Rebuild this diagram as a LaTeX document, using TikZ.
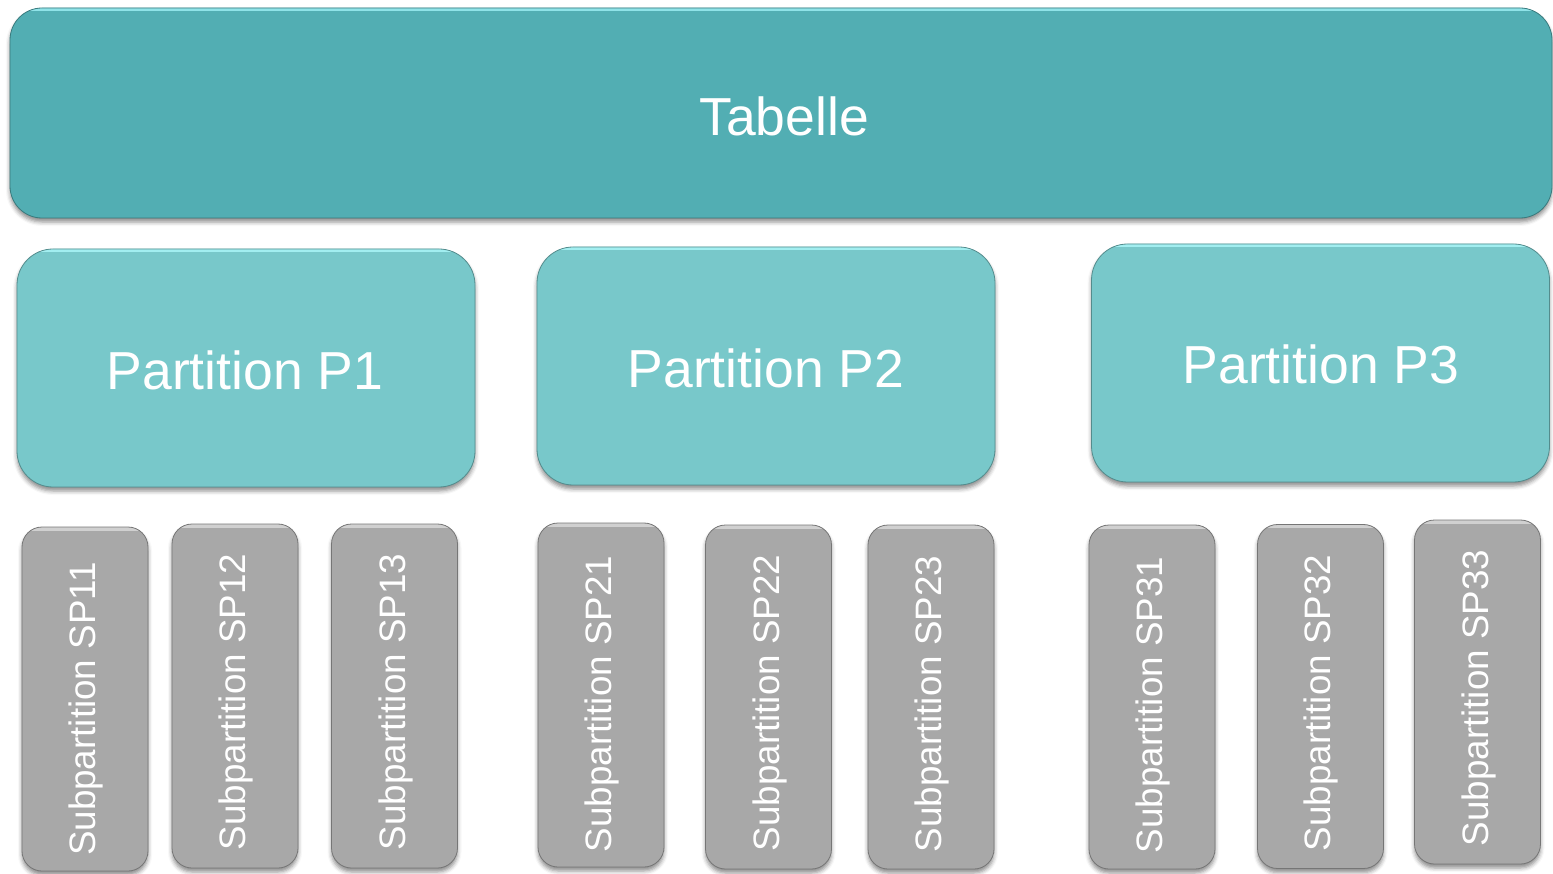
\documentclass[tikz,border=0pt]{standalone}
\usepackage{fontspec}
\setmainfont{Liberation Sans}
\usetikzlibrary{shadows.blur}
\definecolor{tabfill}{HTML}{52AEB3}
\definecolor{partfill}{HTML}{78C8CA}
\definecolor{subfill}{HTML}{A8A8A8}
\definecolor{tabhi}{HTML}{8FE3E8}
\definecolor{parthi}{HTML}{A2EEF0}
\definecolor{subhi}{HTML}{D0D0D0}
\tikzset{
  basebox/.style={draw=#1!70!black, line width=0.8pt, fill=#1, text=white, inner sep=0pt,
    blur shadow={shadow xshift=0pt, shadow yshift=-4pt, shadow blur radius=4pt, shadow opacity=45}},
  hiline/.style={path picture={\draw[line width=7pt, #1] (path picture bounding box.north west) -- (path picture bounding box.north east);}},
  tabbox/.style={basebox=tabfill, hiline=tabhi, rounded corners=32pt, minimum width=1542pt, minimum height=210pt},
  partbox/.style={basebox=partfill, hiline=parthi, rounded corners=36pt, minimum width=458pt, minimum height=238pt},
  subbox/.style={basebox=subfill, hiline=subhi, rounded corners=20pt, minimum width=126pt, minimum height=344pt},
  bigtxt/.style={text=white, font=\fontsize{53.5}{60}\selectfont},
  subtxt/.style={text=white, rotate=90, font=\fontsize{36.8}{42}\selectfont}
}
\begin{document}
\begin{tikzpicture}[x=1pt,y=-1pt]
\useasboundingbox (0,0) rectangle (1553,874);
% Table
\node[tabbox] (T) at (781,113) {};
\node[bigtxt] (Tt) at (784,116) {Tabelle};
% Partitions
\node[partbox] (P1) at (246,368) {};
\node[partbox] (P2) at (766,366) {};
\node[partbox] (P3) at (1320.5,363) {};
\node[bigtxt] (P1t) at (245,370) {Partition P1};
\node[bigtxt] (P2t) at (766,368) {Partition P2};
\node[bigtxt] (P3t) at (1321,364) {Partition P3};
% Subpartitions
\node[subbox] (S11) at (85,699) {};
\node[subbox] (S12) at (235,696) {};
\node[subbox] (S13) at (394.5,696) {};
\node[subbox] (S21) at (601,695) {};
\node[subbox] (S22) at (768.5,697) {};
\node[subbox] (S23) at (931,697) {};
\node[subbox] (S31) at (1152,697) {};
\node[subbox] (S32) at (1320.5,696.5) {};
\node[subbox] (S33) at (1477.5,692) {};
\node[subtxt] (S11t) at (86,709) {Subpartition SP11};
\node[subtxt] (S12t) at (236,702) {Subpartition SP12};
\node[subtxt] (S13t) at (396,702) {Subpartition SP13};
\node[subtxt] (S21t) at (602,704) {Subpartition SP21};
\node[subtxt] (S22t) at (770,703) {Subpartition SP22};
\node[subtxt] (S23t) at (932,704) {Subpartition SP23};
\node[subtxt] (S31t) at (1153,705) {Subpartition SP31};
\node[subtxt] (S32t) at (1321,703) {Subpartition SP32};
\node[subtxt] (S33t) at (1479,698) {Subpartition SP33};
\end{tikzpicture}
\end{document}
